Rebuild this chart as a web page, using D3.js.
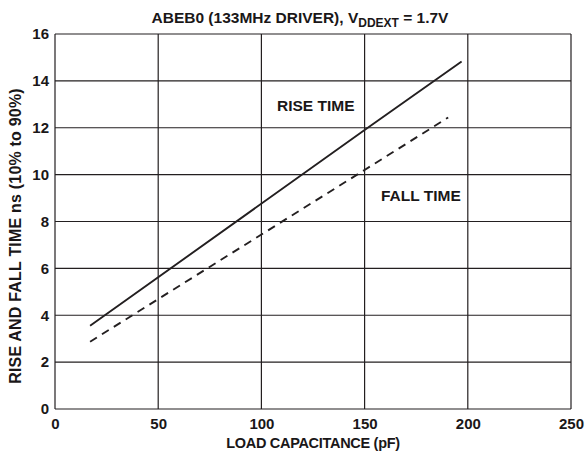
<!DOCTYPE html>
<html><head><meta charset="utf-8">
<script src="https://cdn.jsdelivr.net/npm/d3@7"></script>
<style>
body{margin:0;background:#fff;}
text{font-family:"Liberation Sans",Arial,Helvetica,sans-serif;font-weight:bold;fill:#1a1718;}
</style></head>
<body><svg id="c" width="585" height="460"></svg>
<script>
const xTicks = [0, 50, 100, 150, 200, 250];
const yTicks = [0, 2, 4, 6, 8, 10, 12, 14, 16];
const riseCap = [17, 150, 197];
const riseTime = [3.55, 11.9, 14.83];
const fallCap = [17, 150, 190.5];
const fallTime = [2.87, 10.2, 12.44];

const svg = d3.select("#c");
const m = {l:55, r:571, t:34, b:409};
const x = d3.scaleLinear().domain([0,250]).range([m.l, m.r]);
const y = d3.scaleLinear().domain([0,16]).range([m.b, m.t]);
const ink = "#231f20";

// grid
svg.append("g").selectAll("line").data(xTicks).join("line")
  .attr("x1", d=>x(d)).attr("x2", d=>x(d)).attr("y1", m.t).attr("y2", m.b)
  .attr("stroke", ink).attr("stroke-width", 1.2);
svg.append("g").selectAll("line").data(yTicks).join("line")
  .attr("x1", m.l).attr("x2", m.r).attr("y1", d=>y(d)).attr("y2", d=>y(d))
  .attr("stroke", ink).attr("stroke-width", 1.2);

// axes labels via d3 axes
const xAxis = svg.append("g").attr("transform", `translate(0,${m.b})`)
  .call(d3.axisBottom(x).tickValues(xTicks).tickSize(0).tickPadding(9));
const yAxis = svg.append("g").attr("transform", `translate(${m.l},0)`)
  .call(d3.axisLeft(y).tickValues(yTicks).tickSize(0).tickPadding(6));
[xAxis, yAxis].forEach(a => {
  a.select(".domain").remove();
  a.selectAll("text").attr("font-size", 15).attr("font-family", "Liberation Sans, Arial, sans-serif")
    .attr("font-weight", "bold").attr("fill", "#1a1718");
});

// series lines
const line = d3.line().x(d=>x(d[0])).y(d=>y(d[1]));
svg.append("path").datum(riseCap.map((c,i)=>[c, riseTime[i]]))
  .attr("d", line).attr("fill","none").attr("stroke", ink).attr("stroke-width", 1.9);
svg.append("path").datum(fallCap.map((c,i)=>[c, fallTime[i]]))
  .attr("d", line).attr("fill","none").attr("stroke", ink).attr("stroke-width", 1.9)
  .attr("stroke-dasharray", "8,6");

// labels
svg.append("text").attr("x", 277).attr("y", 111).attr("font-size", 15.5).text("RISE TIME");
svg.append("text").attr("x", 381).attr("y", 201).attr("font-size", 15.5).text("FALL TIME");

// title
const t = svg.append("text").attr("x", 300).attr("y", 23).attr("text-anchor", "middle")
  .attr("font-size", 15.5);
t.append("tspan").text("ABEB0 (133MHz DRIVER), V");
t.append("tspan").attr("font-size", 12).attr("dy", 4).text("DDEXT");
t.append("tspan").attr("dy", -4).text(" = 1.7V");

// axis titles
svg.append("text").attr("x", (m.l+m.r)/2).attr("y", 448).attr("text-anchor","middle")
  .attr("font-size", 14.5).attr("letter-spacing", -0.3).text("LOAD CAPACITANCE (pF)");
svg.append("text").attr("transform", `translate(21,236) rotate(-90)`).attr("text-anchor","middle")
  .attr("font-size", 16).attr("letter-spacing", 0.2).text("RISE AND FALL TIME ns (10% to 90%)");
</script></body></html>
